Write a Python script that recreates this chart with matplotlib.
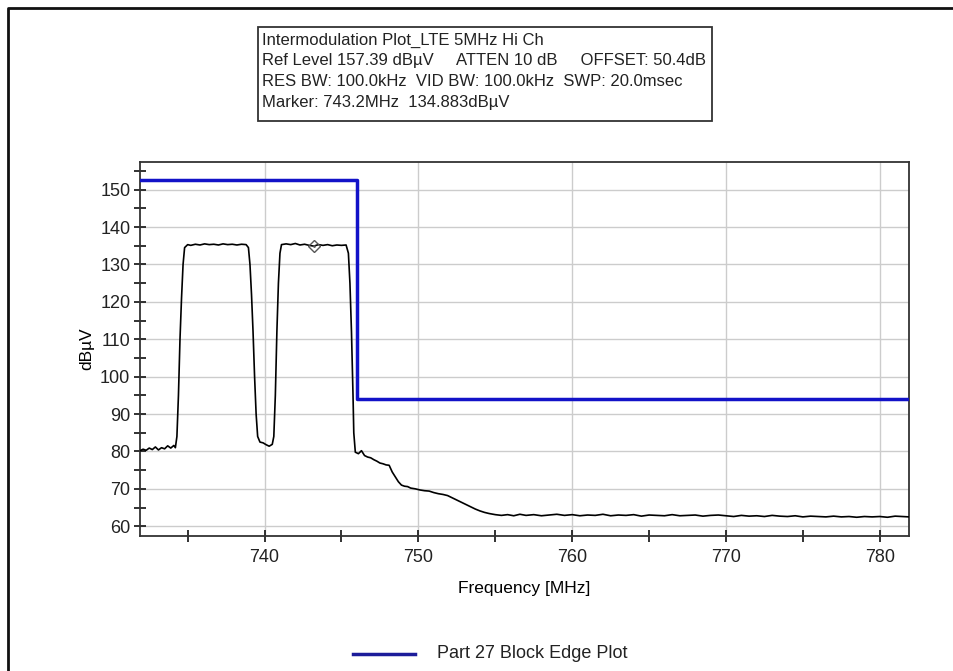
import matplotlib.pyplot as plt
from matplotlib.lines import Line2D
from matplotlib.patches import Rectangle
from matplotlib.ticker import MultipleLocator

plt.rcParams['font.family'] = ['Liberation Sans', 'DejaVu Sans']

freq = [731.9, 732.1, 732.3, 732.5, 732.7, 732.9, 733.1, 733.3, 733.5, 733.7,
        733.9, 734.1, 734.2, 734.3, 734.4, 734.5, 734.6, 734.7, 734.8, 735.0,
        735.2, 735.5, 735.8, 736.1, 736.4, 736.7, 737.0, 737.3, 737.6, 737.9,
        738.2, 738.5, 738.8, 738.95, 739.05, 739.15, 739.25, 739.35, 739.45, 739.55,
        739.7, 739.9, 740.1, 740.3, 740.5, 740.6, 740.7, 740.8, 740.9, 741.0,
        741.1, 741.4, 741.7, 742.0, 742.3, 742.6, 742.9, 743.2, 743.5, 743.8,
        744.1, 744.4, 744.7, 745.0, 745.3, 745.45, 745.55, 745.65, 745.75, 745.8,
        745.9, 746.1, 746.3, 746.5, 746.7, 746.9, 747.1, 747.3, 747.5, 747.7,
        747.9, 748.1, 748.3, 748.5, 748.7, 748.9, 749.1, 749.3, 749.5, 749.8,
        750.1, 750.4, 750.7, 751.0, 751.3, 751.6, 751.9, 752.2, 752.5, 752.8,
        753.1, 753.4, 753.7, 754.0, 754.3, 754.6, 755.0, 755.4, 755.8, 756.2,
        756.6, 757.0, 757.5, 758.0, 758.5, 759.0, 759.5, 760.0, 760.5, 761.0,
        761.5, 762.0, 762.5, 763.0, 763.5, 764.0, 764.5, 765.0, 765.5, 766.0,
        766.5, 767.0, 767.5, 768.0, 768.5, 769.0, 769.5, 770.0, 770.5, 771.0,
        771.5, 772.0, 772.5, 773.0, 773.5, 774.0, 774.5, 775.0, 775.5, 776.0,
        776.5, 777.0, 777.5, 778.0, 778.5, 779.0, 779.5, 780.0, 780.5, 781.0,
        781.5, 781.9]
level = [80.2, 80.6, 80.3, 80.9, 80.5, 81.2, 80.4, 81.0, 80.7, 81.5,
         80.9, 81.6, 81.0, 84.0, 95.0, 110.0, 121.0, 130.0, 134.5, 135.3,
         135.1, 135.4, 135.2, 135.5, 135.3, 135.4, 135.2, 135.5, 135.3, 135.4,
         135.2, 135.4, 135.3, 134.5, 130.0, 122.0, 112.0, 100.0, 90.0, 84.0,
         82.5, 82.3, 81.8, 81.4, 81.9, 84.0, 95.0, 112.0, 125.0, 133.0,
         135.3, 135.5, 135.3, 135.6, 135.2, 135.4, 135.1, 134.9, 135.3, 135.1,
         135.3, 135.0, 135.2, 135.1, 135.2, 133.0, 125.0, 112.0, 95.0, 85.0,
         79.8, 79.4, 80.2, 78.9, 78.5, 78.3, 77.8, 77.4, 76.9, 76.7,
         76.4, 76.3, 74.5, 73.2, 71.9, 71.0, 70.7, 70.6, 70.2, 70.0,
         69.7, 69.5, 69.4, 69.0, 68.7, 68.5, 68.2, 67.6, 67.0, 66.4,
         65.8, 65.2, 64.6, 64.1, 63.7, 63.4, 63.1, 62.9, 63.1, 62.8,
         63.2, 62.9, 63.1, 62.8, 63.0, 63.2, 62.9, 63.1, 62.8, 63.0,
         62.9, 63.2, 62.8, 63.0, 62.9, 63.1, 62.7, 63.0, 62.9, 62.8,
         63.1, 62.8, 62.9, 63.0, 62.7, 62.9, 63.0, 62.8, 62.6, 62.9,
         62.7, 62.8, 62.6, 62.9, 62.7, 62.6, 62.8, 62.5, 62.7, 62.6,
         62.5, 62.7, 62.5, 62.6, 62.4, 62.6, 62.5, 62.6, 62.4, 62.7,
         62.6, 62.5]

# Part 27 block edge limit line
limit_freq = [731.9, 746.0, 746.0, 781.9]
limit_level = [152.5, 152.5, 94.0, 94.0]

marker_freq = 743.2
marker_level = 134.883

header = ["Intermodulation Plot_LTE 5MHz Hi Ch",
          "Ref Level 157.39 dB\u00b5V     ATTEN 10 dB     OFFSET: 50.4dB",
          "RES BW: 100.0kHz  VID BW: 100.0kHz  SWP: 20.0msec",
          "Marker: 743.2MHz  134.883dB\u00b5V"]

W, H = 954, 671
fig = plt.figure(figsize=(W / 100, H / 100), dpi=100)
ax = fig.add_axes([140 / W, 1 - 536 / H, (909 - 140) / W, (536 - 162) / H])

blue = '#1212c8'
ax.plot(limit_freq, limit_level, color=blue, lw=2.5, zorder=3)
ax.plot(freq, level, color='black', lw=1.2, zorder=4)
ax.plot(marker_freq, marker_level, marker='D', ms=6, mfc='none', mec='#555555',
        mew=1.0, zorder=5)
ax.plot(marker_freq, marker_level, marker='.', ms=2, color='#555555', zorder=5)

ax.set_xlim(731.9, 781.9)
ax.set_ylim(57.39, 157.39)
ax.xaxis.set_major_locator(MultipleLocator(10))
ax.xaxis.set_minor_locator(MultipleLocator(5))
ax.yaxis.set_major_locator(MultipleLocator(10))
ax.yaxis.set_minor_locator(MultipleLocator(5))
ax.grid(True, which='major', color='#cccccc', lw=1.0)
ax.set_axisbelow(True)
ax.tick_params(which='both', direction='inout', length=8, width=1.3,
               labelsize=13, colors='#222222')
ax.tick_params(axis='x', pad=5)
ax.tick_params(axis='y', pad=3)
for s in ax.spines.values():
    s.set_color('#333333')
    s.set_linewidth(1.3)
ax.set_xlabel('Frequency [MHz]', fontsize=12.5, labelpad=11)
ax.set_ylabel('dB\u00b5V', fontsize=12.5, labelpad=4)

# header box
fig.add_artist(Rectangle((258 / W, 1 - 121 / H), (712 - 258) / W, (121 - 27) / H,
                         transform=fig.transFigure, fill=False, ec='#333333', lw=1.3))
for i, line in enumerate(header):
    fig.text(262 / W, 1 - (40 + 21 * i) / H, line, fontsize=12, va='center',
             ha='left', color='#222222')

# legend
fig.add_artist(Line2D([353 / W, 415 / W], [1 - 654 / H, 1 - 654 / H],
                      transform=fig.transFigure, color='#1c1c9a', lw=2.5))
fig.text(437 / W, 1 - 654 / H, 'Part 27 Block Edge Plot', fontsize=13,
         va='center', ha='left', color='#222222')

# outer frame (left and top edges)
fig.add_artist(Line2D([8 / W, 8 / W, 1.0], [0.0, 1 - 8 / H, 1 - 8 / H],
                      transform=fig.transFigure, color='#111111', lw=2.0))

fig.savefig('out.png', dpi=100)
